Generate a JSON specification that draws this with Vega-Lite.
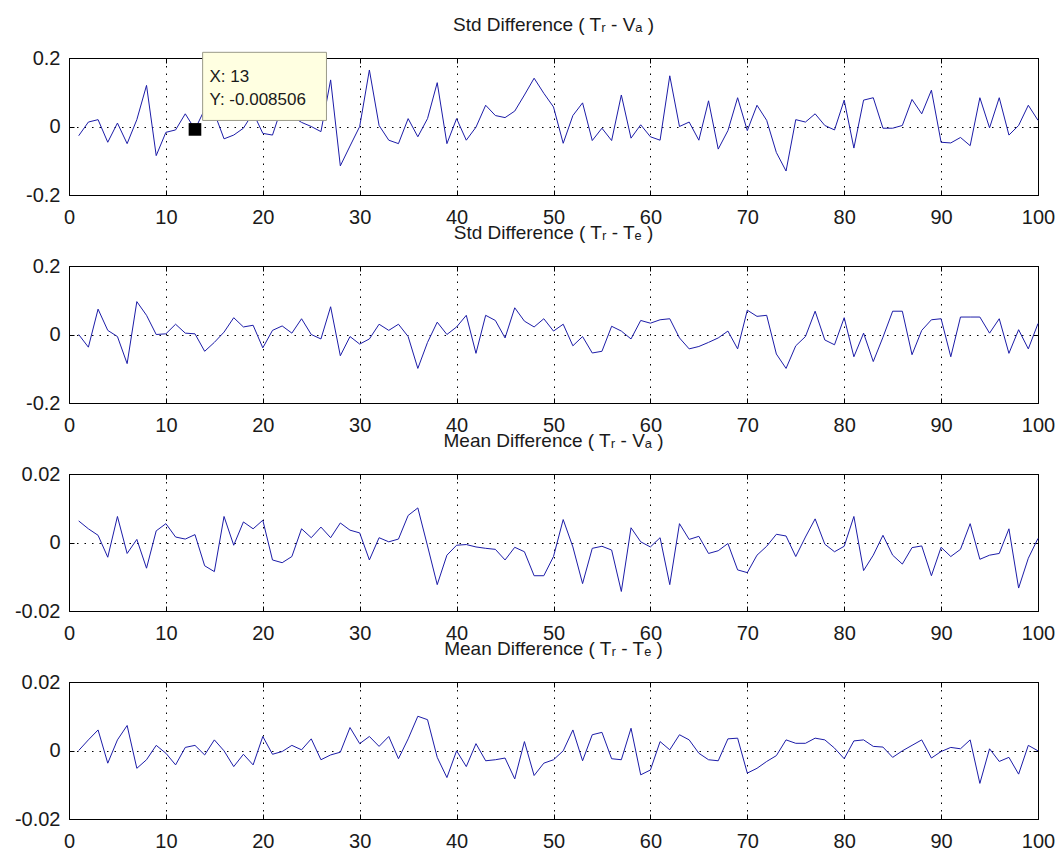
{
  "$schema": "https://vega.github.io/schema/vega-lite/v6.json",
  "background": "white",
  "padding": {"left": 13, "top": 15, "right": 0, "bottom": 0},
  "bounds": "flush",
  "spacing": 71,
  "config": {
    "font": "Liberation Sans",
    "view": {"stroke": "black", "strokeWidth": 1},
    "axis": {
      "domain": false,
      "labelFont": "Liberation Sans",
      "labelFontSize": 20,
      "labelColor": "#1a1a1a",
      "tickColor": "black",
      "tickSize": -5,
      "labelPadding": 14,
      "gridColor": "black",
      "gridDash": [1.5, 6],
      "gridOpacity": 1,
      "labelFlush": false,
      "labelOverlap": false,
      "title": null
    },
    "axisBottom": {"labelPadding": 17},
    "title": {"font": "Liberation Sans", "fontSize": 19, "fontWeight": "normal", "anchor": "middle", "baseline": "alphabetic", "offset": 13, "color": "#1a1a1a"}
  },
  "data": {"values": [
    {"x":1,"s1":-0.027,"s2":0,"m1":0.0063,"m2":0},
    {"x":2,"s1":0.013,"s2":-0.037,"m1":0.004,"m2":0.0031},
    {"x":3,"s1":0.02,"s2":0.074,"m1":0.0021,"m2":0.006},
    {"x":4,"s1":-0.046,"s2":0.012,"m1":-0.0043,"m2":-0.0037},
    {"x":5,"s1":0.01,"s2":-0.006,"m1":0.0076,"m2":0.0031},
    {"x":6,"s1":-0.05,"s2":-0.085,"m1":-0.0032,"m2":0.0073},
    {"x":7,"s1":0.02,"s2":0.096,"m1":0.0009,"m2":-0.0052},
    {"x":8,"s1":0.12,"s2":0.056,"m1":-0.0075,"m2":-0.0027},
    {"x":9,"s1":-0.085,"s2":0,"m1":0.0034,"m2":0.0015},
    {"x":10,"s1":-0.017,"s2":0.002,"m1":0.0055,"m2":-0.0008},
    {"x":11,"s1":-0.01,"s2":0.03,"m1":0.0016,"m2":-0.0042},
    {"x":12,"s1":0.037,"s2":0.004,"m1":0.001,"m2":0.0009},
    {"x":13,"s1":-0.008506,"s2":0.002,"m1":0.0023,"m2":0.0015},
    {"x":14,"s1":0.05,"s2":-0.049,"m1":-0.0068,"m2":-0.0013},
    {"x":15,"s1":0.04,"s2":-0.023,"m1":-0.0085,"m2":0.0031},
    {"x":16,"s1":-0.036,"s2":0.007,"m1":0.0076,"m2":-0.0001},
    {"x":17,"s1":-0.025,"s2":0.049,"m1":-0.0008,"m2":-0.0047},
    {"x":18,"s1":-0.005,"s2":0.022,"m1":0.006,"m2":-0.0011},
    {"x":19,"s1":0.04,"s2":0.027,"m1":0.004,"m2":-0.0042},
    {"x":20,"s1":-0.02,"s2":-0.039,"m1":0.0065,"m2":0.0041},
    {"x":21,"s1":-0.025,"s2":0.012,"m1":-0.0051,"m2":-0.0011},
    {"x":22,"s1":0.06,"s2":0.025,"m1":-0.0059,"m2":-0.0003},
    {"x":23,"s1":0.03,"s2":0.004,"m1":-0.0041,"m2":0.0015},
    {"x":24,"s1":0.012,"s2":0.046,"m1":0.004,"m2":0.0002},
    {"x":25,"s1":0,"s2":0,"m1":0.0014,"m2":0.0034},
    {"x":26,"s1":-0.015,"s2":-0.013,"m1":0.0045,"m2":-0.0027},
    {"x":27,"s1":0.136,"s2":0.081,"m1":0.0014,"m2":-0.0013},
    {"x":28,"s1":-0.115,"s2":-0.062,"m1":0.0057,"m2":-0.0005},
    {"x":29,"s1":-0.057,"s2":-0.006,"m1":0.0036,"m2":0.0067},
    {"x":30,"s1":0,"s2":-0.028,"m1":0.0028,"m2":0.002},
    {"x":31,"s1":0.165,"s2":-0.013,"m1":-0.0051,"m2":0.0041},
    {"x":32,"s1":0.003,"s2":0.03,"m1":0.0014,"m2":0.0012},
    {"x":33,"s1":-0.04,"s2":0.012,"m1":0.0002,"m2":0.0041},
    {"x":34,"s1":-0.05,"s2":0.03,"m1":0.001,"m2":-0.0024},
    {"x":35,"s1":0.023,"s2":-0.006,"m1":0.0079,"m2":0.0034},
    {"x":36,"s1":-0.03,"s2":-0.099,"m1":0.0101,"m2":0.01},
    {"x":37,"s1":0.023,"s2":-0.023,"m1":-0.001,"m2":0.009},
    {"x":38,"s1":0.128,"s2":0.036,"m1":-0.0123,"m2":-0.002},
    {"x":39,"s1":-0.05,"s2":0,"m1":-0.0037,"m2":-0.0079},
    {"x":40,"s1":0.023,"s2":0.022,"m1":-0.0008,"m2":-0.0001},
    {"x":41,"s1":-0.04,"s2":0.056,"m1":-0.0006,"m2":-0.0047},
    {"x":42,"s1":-0.002,"s2":-0.055,"m1":-0.0013,"m2":0.002},
    {"x":43,"s1":0.062,"s2":0.056,"m1":-0.0017,"m2":-0.003},
    {"x":44,"s1":0.032,"s2":0.041,"m1":-0.002,"m2":-0.0027},
    {"x":45,"s1":0.026,"s2":-0.01,"m1":-0.0051,"m2":-0.0022},
    {"x":46,"s1":0.045,"s2":0.078,"m1":-0.0014,"m2":-0.0083},
    {"x":47,"s1":0.092,"s2":0.039,"m1":-0.0027,"m2":0.0026},
    {"x":48,"s1":0.141,"s2":0.022,"m1":-0.0097,"m2":-0.0073},
    {"x":49,"s1":0.097,"s2":0.046,"m1":-0.0097,"m2":-0.0037},
    {"x":50,"s1":0.057,"s2":0.01,"m1":-0.0041,"m2":-0.0027},
    {"x":51,"s1":-0.049,"s2":0.03,"m1":0.0067,"m2":-0.0001},
    {"x":52,"s1":0.032,"s2":-0.033,"m1":-0.0013,"m2":0.006},
    {"x":53,"s1":0.069,"s2":-0.006,"m1":-0.012,"m2":-0.003},
    {"x":54,"s1":-0.041,"s2":-0.054,"m1":-0.0017,"m2":0.0046},
    {"x":55,"s1":-0.005,"s2":-0.049,"m1":-0.0011,"m2":0.0053},
    {"x":56,"s1":-0.041,"s2":0.024,"m1":-0.0022,"m2":-0.0024},
    {"x":57,"s1":0.092,"s2":0.01,"m1":-0.0143,"m2":-0.0027},
    {"x":58,"s1":-0.034,"s2":-0.013,"m1":0.0043,"m2":0.0065},
    {"x":59,"s1":0.005,"s2":0.041,"m1":0.0002,"m2":-0.0071},
    {"x":60,"s1":-0.03,"s2":0.033,"m1":-0.0013,"m2":-0.0057},
    {"x":61,"s1":-0.04,"s2":0.043,"m1":0.0014,"m2":0.0026},
    {"x":62,"s1":0.148,"s2":0.046,"m1":-0.0123,"m2":0.0002},
    {"x":63,"s1":0,"s2":-0.01,"m1":0.0055,"m2":0.0046},
    {"x":64,"s1":0.013,"s2":-0.042,"m1":0.0009,"m2":0.0031},
    {"x":65,"s1":-0.04,"s2":-0.035,"m1":0.0018,"m2":-0.0008},
    {"x":66,"s1":0.075,"s2":-0.023,"m1":-0.0032,"m2":-0.0027},
    {"x":67,"s1":-0.066,"s2":-0.01,"m1":-0.0024,"m2":-0.003},
    {"x":68,"s1":-0.012,"s2":0.01,"m1":-0.0003,"m2":0.0034},
    {"x":69,"s1":0.084,"s2":-0.042,"m1":-0.008,"m2":0.0036},
    {"x":70,"s1":-0.012,"s2":0.071,"m1":-0.0088,"m2":-0.0066},
    {"x":71,"s1":0.062,"s2":0.053,"m1":-0.0037,"m2":-0.0052},
    {"x":72,"s1":0.018,"s2":0.056,"m1":-0.0011,"m2":-0.0032},
    {"x":73,"s1":-0.076,"s2":-0.057,"m1":0.0024,"m2":-0.0015},
    {"x":74,"s1":-0.13,"s2":-0.099,"m1":0.0019,"m2":0.0031},
    {"x":75,"s1":0.02,"s2":-0.033,"m1":-0.0041,"m2":0.0021},
    {"x":76,"s1":0.013,"s2":-0.006,"m1":0.0016,"m2":0.0021},
    {"x":77,"s1":0.037,"s2":0.068,"m1":0.0069,"m2":0.0036},
    {"x":78,"s1":0.003,"s2":-0.016,"m1":-0.0005,"m2":0.0031},
    {"x":79,"s1":-0.01,"s2":-0.03,"m1":-0.0027,"m2":0.0007},
    {"x":80,"s1":0.077,"s2":0.049,"m1":-0.0011,"m2":-0.0024},
    {"x":81,"s1":-0.063,"s2":-0.065,"m1":0.0076,"m2":0.0028},
    {"x":82,"s1":0.077,"s2":0.004,"m1":-0.0082,"m2":0.0031},
    {"x":83,"s1":0.084,"s2":-0.079,"m1":-0.0037,"m2":0.0012},
    {"x":84,"s1":-0.005,"s2":-0.008,"m1":0.0021,"m2":0.001},
    {"x":85,"s1":-0.005,"s2":0.068,"m1":-0.0037,"m2":-0.002},
    {"x":86,"s1":0.003,"s2":0.068,"m1":-0.0063,"m2":-0.0001},
    {"x":87,"s1":0.079,"s2":-0.059,"m1":-0.0015,"m2":0.0015},
    {"x":88,"s1":0.037,"s2":0.012,"m1":-0.001,"m2":0.0031},
    {"x":89,"s1":0.106,"s2":0.043,"m1":-0.0097,"m2":-0.0022},
    {"x":90,"s1":-0.046,"s2":0.046,"m1":-0.0014,"m2":-0.0003},
    {"x":91,"s1":-0.048,"s2":-0.065,"m1":-0.0041,"m2":0.0009},
    {"x":92,"s1":-0.032,"s2":0.051,"m1":-0.002,"m2":0.0005},
    {"x":93,"s1":-0.056,"s2":0.051,"m1":0.0055,"m2":0.0031},
    {"x":94,"s1":0.084,"s2":0.051,"m1":-0.0049,"m2":-0.0096},
    {"x":95,"s1":-0.004,"s2":0.004,"m1":-0.0037,"m2":0.0005},
    {"x":96,"s1":0.084,"s2":0.046,"m1":-0.0032,"m2":-0.0032},
    {"x":97,"s1":-0.025,"s2":-0.055,"m1":0.004,"m2":-0.002},
    {"x":98,"s1":0.003,"s2":0.014,"m1":-0.0133,"m2":-0.0069},
    {"x":99,"s1":0.062,"s2":-0.042,"m1":-0.0046,"m2":0.0015},
    {"x":100,"s1":0.018,"s2":0.032,"m1":0.0012,"m2":-0.0001}
  ]},
  "vconcat": [
    {
      "title": "Std Difference ( Tᵣ - Vₐ )",
      "width": 969, "height": 137,
      "resolve": {"axis": {"x": "independent", "y": "independent"}},
      "layer": [
        {
          "mark": {"type": "line", "color": "#1c1ca8", "strokeWidth": 1},
          "encoding": {
            "x": {"field": "x", "type": "quantitative", "scale": {"domain": [0, 100], "nice": false},
                  "axis": {"orient": "bottom", "grid": true, "values": [0,10,20,30,40,50,60,70,80,90,100], "format": "d"}},
            "y": {"field": "s1", "type": "quantitative", "scale": {"domain": [-0.2, 0.2], "nice": false},
                  "axis": {"orient": "left", "grid": true, "values": [-0.2, 0, 0.2], "labelExpr": "datum.value < 0 ? '-' + format(-datum.value, '.1f') : (datum.value == 0 ? '0' : format(datum.value, '.1f'))"}}
          }
        },
        {
          "mark": {"type": "line", "opacity": 0},
          "encoding": {
            "x": {"field": "x", "type": "quantitative", "axis": {"orient": "top", "labels": false, "grid": false, "values": [0,10,20,30,40,50,60,70,80,90,100]}},
            "y": {"field": "s1", "type": "quantitative", "axis": {"orient": "right", "labels": false, "grid": false, "values": [-0.2, 0, 0.2]}}
          }
        },
        {
          "data": {"values": [{}]},
          "mark": {"type": "rect", "fill": "#ffffe1", "stroke": "#9a9a88", "strokeWidth": 1},
          "encoding": {
            "x": {"datum": 13.79, "type": "quantitative", "axis": null},
            "x2": {"datum": 26.57},
            "y": {"datum": 0.2166, "type": "quantitative", "axis": null},
            "y2": {"datum": 0.0177}
          }
        },
        {
          "data": {"values": [{}]},
          "mark": {"type": "text", "text": "X: 13", "align": "left", "baseline": "alphabetic", "fontSize": 17, "font": "Liberation Sans", "color": "#1a1a1a"},
          "encoding": {
            "x": {"datum": 14.5, "type": "quantitative", "axis": null},
            "y": {"datum": 0.13, "type": "quantitative", "axis": null}
          }
        },
        {
          "data": {"values": [{}]},
          "mark": {"type": "text", "text": "Y: -0.008506", "align": "left", "baseline": "alphabetic", "fontSize": 17, "font": "Liberation Sans", "color": "#1a1a1a"},
          "encoding": {
            "x": {"datum": 14.5, "type": "quantitative", "axis": null},
            "y": {"datum": 0.062, "type": "quantitative", "axis": null}
          }
        },
        {
          "data": {"values": [{}]},
          "mark": {"type": "square", "size": 160, "color": "black", "filled": true, "opacity": 1},
          "encoding": {
            "x": {"datum": 13, "type": "quantitative", "axis": null},
            "y": {"datum": -0.008506, "type": "quantitative", "axis": null}
          }
        }
      ]
    },
    {
      "title": "Std Difference ( Tᵣ - Tₑ )",
      "width": 969, "height": 137,
      "resolve": {"axis": {"x": "independent", "y": "independent"}},
      "layer": [
        {
          "mark": {"type": "line", "color": "#1c1ca8", "strokeWidth": 1},
          "encoding": {
            "x": {"field": "x", "type": "quantitative", "scale": {"domain": [0, 100], "nice": false},
                  "axis": {"orient": "bottom", "grid": true, "values": [0,10,20,30,40,50,60,70,80,90,100], "format": "d"}},
            "y": {"field": "s2", "type": "quantitative", "scale": {"domain": [-0.2, 0.2], "nice": false},
                  "axis": {"orient": "left", "grid": true, "values": [-0.2, 0, 0.2], "labelExpr": "datum.value < 0 ? '-' + format(-datum.value, '.1f') : (datum.value == 0 ? '0' : format(datum.value, '.1f'))"}}
          }
        },
        {
          "mark": {"type": "line", "opacity": 0},
          "encoding": {
            "x": {"field": "x", "type": "quantitative", "axis": {"orient": "top", "labels": false, "grid": false, "values": [0,10,20,30,40,50,60,70,80,90,100]}},
            "y": {"field": "s2", "type": "quantitative", "axis": {"orient": "right", "labels": false, "grid": false, "values": [-0.2, 0, 0.2]}}
          }
        }
      ]
    },
    {
      "title": "Mean Difference ( Tᵣ - Vₐ )",
      "width": 969, "height": 137,
      "resolve": {"axis": {"x": "independent", "y": "independent"}},
      "layer": [
        {
          "mark": {"type": "line", "color": "#1c1ca8", "strokeWidth": 1},
          "encoding": {
            "x": {"field": "x", "type": "quantitative", "scale": {"domain": [0, 100], "nice": false},
                  "axis": {"orient": "bottom", "grid": true, "values": [0,10,20,30,40,50,60,70,80,90,100], "format": "d"}},
            "y": {"field": "m1", "type": "quantitative", "scale": {"domain": [-0.02, 0.02], "nice": false},
                  "axis": {"orient": "left", "grid": true, "values": [-0.02, 0, 0.02], "labelExpr": "datum.value < 0 ? '-' + format(-datum.value, '.2f') : (datum.value == 0 ? '0' : format(datum.value, '.2f'))"}}
          }
        },
        {
          "mark": {"type": "line", "opacity": 0},
          "encoding": {
            "x": {"field": "x", "type": "quantitative", "axis": {"orient": "top", "labels": false, "grid": false, "values": [0,10,20,30,40,50,60,70,80,90,100]}},
            "y": {"field": "m1", "type": "quantitative", "axis": {"orient": "right", "labels": false, "grid": false, "values": [-0.02, 0, 0.02]}}
          }
        }
      ]
    },
    {
      "title": "Mean Difference ( Tᵣ - Tₑ )",
      "width": 969, "height": 137,
      "resolve": {"axis": {"x": "independent", "y": "independent"}},
      "layer": [
        {
          "mark": {"type": "line", "color": "#1c1ca8", "strokeWidth": 1},
          "encoding": {
            "x": {"field": "x", "type": "quantitative", "scale": {"domain": [0, 100], "nice": false},
                  "axis": {"orient": "bottom", "grid": true, "values": [0,10,20,30,40,50,60,70,80,90,100], "format": "d"}},
            "y": {"field": "m2", "type": "quantitative", "scale": {"domain": [-0.02, 0.02], "nice": false},
                  "axis": {"orient": "left", "grid": true, "values": [-0.02, 0, 0.02], "labelExpr": "datum.value < 0 ? '-' + format(-datum.value, '.2f') : (datum.value == 0 ? '0' : format(datum.value, '.2f'))"}}
          }
        },
        {
          "mark": {"type": "line", "opacity": 0},
          "encoding": {
            "x": {"field": "x", "type": "quantitative", "axis": {"orient": "top", "labels": false, "grid": false, "values": [0,10,20,30,40,50,60,70,80,90,100]}},
            "y": {"field": "m2", "type": "quantitative", "axis": {"orient": "right", "labels": false, "grid": false, "values": [-0.02, 0, 0.02]}}
          }
        }
      ]
    }
  ]
}
